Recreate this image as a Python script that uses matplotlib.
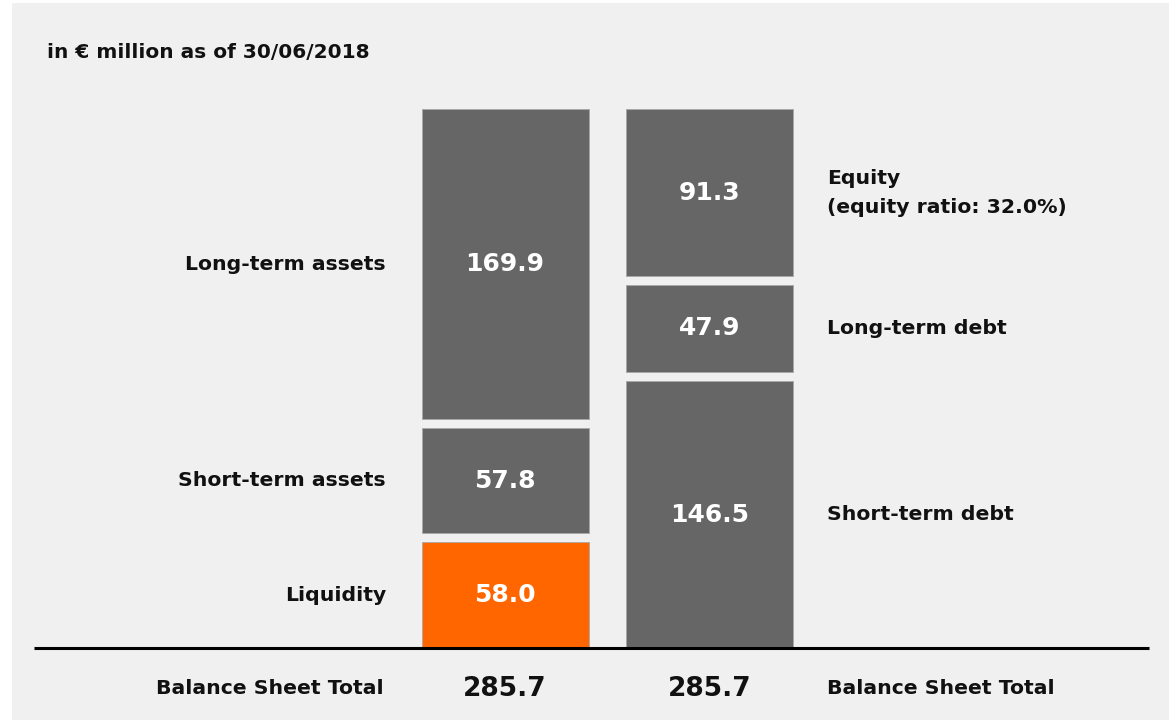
import matplotlib
matplotlib.use("Agg")
import matplotlib.pyplot as plt
from matplotlib.patches import Rectangle

# ── data ────────────────────────────────────────────────────────────────
asset_labels = ["Liquidity", "Short-term assets", "Long-term assets"]
asset_values = [58.0, 57.8, 169.9]
liab_labels = ["Short-term debt", "Long-term debt", "Equity\n(equity ratio: 32.0%)"]
liab_values = [146.5, 47.9, 91.3]
total_label = "Balance Sheet Total"
totals = [285.7, 285.7]
title = "in \u20ac million as of 30/06/2018"

BG = "#f0f0f0"
GREY = "#666666"
ORANGE = "#ff6600"
INK = "#111111"

plt.rcParams["font.family"] = "DejaVu Sans"

W, H = 1169, 720
PX = 1.822          # pixels per € million
UX = 204.5          # pixels per x unit (distance between bar centres)
BASE_Y = 648        # baseline in pixels from top
X0 = 505            # left bar centre in pixels
GAP = 9 / PX        # gap between stacked blocks in data units

fig = plt.figure(figsize=(W / 100, H / 100), dpi=100)
fig.patch.set_facecolor("white")
fig.patches.append(Rectangle((12 / W, 0), 1 - 12 / W, 1 - 3 / H,
                             transform=fig.transFigure, fc=BG, ec="none",
                             zorder=-5))

ax = fig.add_axes([0, 0, 1, 1])
ax.set_zorder(2)
ax.set_facecolor("none")
ax.axis("off")
ax.set_xlim(-X0 / UX, (W - X0) / UX)
ax.set_ylim(-(H - BASE_Y) / PX, BASE_Y / PX)

bar_w = 167 / UX


def stack(xc, values, colors):
    centres = []
    bottom = 0.0
    for v, c in zip(values, colors):
        ax.bar(xc, v, width=bar_w, bottom=bottom, color=c,
               edgecolor="#a8a8a8", linewidth=0.6, zorder=2)
        centres.append(bottom + v / 2)
        bottom += v + GAP
    return centres


a_cent = stack(0, asset_values, [ORANGE, GREY, GREY])
l_cent = stack(1, liab_values, [GREY, GREY, GREY])

val_kw = dict(color="white", fontsize=18, fontweight="bold",
              ha="center", va="center", zorder=3)
lab_kw = dict(color=INK, fontsize=14.7, fontweight="bold", va="center")

for v, c, lab in zip(asset_values, a_cent, asset_labels):
    ax.text(0, c, f"{v:.1f}", **val_kw)
    ax.text((386 - X0) / UX, c, lab, ha="right", **lab_kw)

for v, c, lab in zip(liab_values, l_cent, liab_labels):
    ax.text(1, c, f"{v:.1f}", **val_kw)
    ax.text((827 - X0) / UX, c, lab, ha="left", linespacing=1.65, **lab_kw)

# baseline
ax.plot([(34 - X0) / UX, (1149 - X0) / UX], [0, 0], color="black",
        lw=2.2, solid_capstyle="butt", zorder=4)

# totals row
ty = -(689 - BASE_Y) / PX
ax.text((384 - X0) / UX, ty, total_label, ha="right", **lab_kw)
ax.text((827 - X0) / UX, ty, total_label, ha="left", **lab_kw)
for i, t in enumerate(totals):
    ax.text(i, ty, f"{t:.1f}", color=INK, fontsize=19, fontweight="bold",
            ha="center", va="center")

fig.text(47 / W, 1 - 52 / H, title, fontsize=14.5, fontweight="bold",
         color=INK, ha="left", va="center")

fig.savefig("out.png", dpi=100, facecolor="white")
